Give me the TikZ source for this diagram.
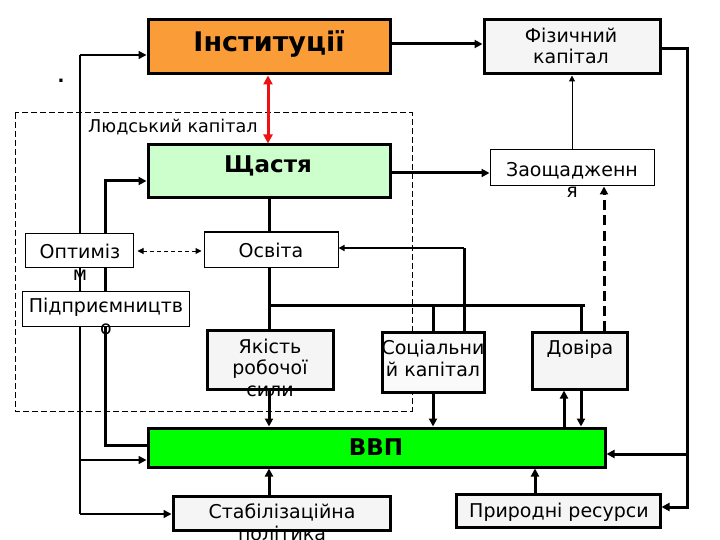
\documentclass[tikz,border=0pt]{standalone}
\usepackage{fontspec}
\setmainfont{DejaVu Sans}
\usetikzlibrary{arrows.meta,fit}
\definecolor{instor}{RGB}{250,157,56}
\definecolor{happyg}{RGB}{204,255,204}
\definecolor{gdpg}{RGB}{0,255,0}
\definecolor{boxgray}{RGB}{245,245,245}
\definecolor{redarr}{RGB}{238,17,17}
\pgfdeclarelayer{bg}
\pgfsetlayers{bg,main}
\tikzset{
  thickbox/.style={draw=black, line width=3pt, inner sep=0pt},
  thinbox/.style={draw=black, line width=1pt, inner sep=0pt, fill=white},
  txt/.style={inner sep=0pt, anchor=base, font=\fontsize{19}{21.5}\selectfont},
  lbl/.style={inner sep=0pt, anchor=base west, font=\fontsize{17.6}{20}\selectfont},
  bigtxt/.style={inner sep=0pt, anchor=base, font=\bfseries\fontsize{23}{27}\selectfont},
  thk/.style={line width=3pt},
  thn/.style={line width=1.5pt},
  tip/.style={-{Triangle[length=8pt,width=8pt]}},
  smalltip/.style={-{Triangle[length=6pt,width=6pt]}},
}
\begin{document}
\begin{tikzpicture}[x=1pt,y=-1pt]
\useasboundingbox (0,0) rectangle (720,540);
% boxes
\node[thickbox, fill=instor, fit={(148,20) (390,74)}] (inst) {};
\node[thickbox, fill=boxgray, fit={(484,20) (660,74)}] (fiz) {};
\node[thickbox, fill=happyg, fit={(148,145) (390,198)}] (happy) {};
\node[thinbox, fit={(490,150) (654,186)}] (sav) {};
\node[thinbox, fit={(25,233) (133,267)}] (opt) {};
\node[thinbox, fit={(204,232) (338,267)}] (osv) {};
\node[thinbox, fit={(22,291) (189,326)}] (pid) {};
\node[thickbox, fill=boxgray, fit={(207,330) (333,389)}] (yak) {};
\node[thickbox, fill=boxgray!50, fit={(382,332) (484,392)}] (soc) {};
\node[thickbox, fill=boxgray, fit={(532,332) (627,389)}] (dov) {};
\node[thickbox, fill=gdpg, fit={(148,428) (605,467)}] (gdp) {};
\node[thickbox, fill=boxgray, fit={(173,496) (390,530)}] (stab) {};
\node[thickbox, fill=boxgray, fit={(456,494) (660,527)}] (nat) {};
% background: frame and long left lines
\begin{pgfonlayer}{bg}
\draw[line width=1pt, dash pattern=on 6pt off 3pt] (15,113) rectangle (412,411);
\coordinate (lt) at (80,55);
\coordinate (lm) at (80,460);
\coordinate (lb) at (80,514);
\draw[thn] (lt) -- (lb);
\draw[thn,tip] (lt) -- (lt -| inst.west);
\draw[thn,tip] (lm) -- (lm -| gdp.west);
\draw[thn,tip] (lb) -- (lb -| stab.west);
\coordinate (ht) at (105,181);
\coordinate (hb) at (105,445);
\draw[thk,tip] (hb -| gdp.west) -- (hb) -- (ht) -- (ht -| happy.west);
\end{pgfonlayer}
% connectors
\draw[line width=3pt, redarr, {Triangle[length=9pt,width=9pt]}-{Triangle[length=9pt,width=9pt]}] (inst.south -| 268,0) -- (happy.north -| 268,0);
\draw[thk,tip] (inst.east |- 0,44) -- (fiz.west |- 0,44);
\coordinate (r1) at (687,49);
\coordinate (r2) at (687,507);
\coordinate (r3) at (687,454);
\draw[thk,tip] (fiz.east |- r1) -- (r1) -- (r2) -- (r2 -| nat.east);
\draw[thk,tip] (r3) -- (r3 -| gdp.east);
\draw[line width=1pt,smalltip] (sav.north) -- (fiz.south);
\draw[thk,tip] (happy.east |- 0,173) -- (sav.west |- 0,173);
\draw[thk, dash pattern=on 10pt off 5pt, tip] (dov.north -| 604,0) -- (sav.south -| 604,0);
\draw[thk] (happy.south -| 269,0) -- (osv.north -| 269,0);
\draw[thk] (osv.south -| 269,0) -- (yak.north -| 269,0);
\draw[thk,tip] (yak.south -| 269,0) -- (gdp.north -| 269,0);
\coordinate (j1) at (269,305);
\coordinate (j2) at (585,305);
\draw[thk] (j1) -- (j2);
\draw[thk] (433,305) -- (soc.north -| 433,0);
\draw[thk] (581,305) -- (dov.north -| 581,0);
\coordinate (e1) at (464,248);
\draw[thk] (soc.north -| e1) -- (e1);
\draw[thn,smalltip] (e1) -- (e1 -| osv.east);
\draw[line width=1pt, dash pattern=on 4pt off 3pt, {Triangle[length=6pt,width=6pt]}-{Triangle[length=6pt,width=6pt]}, shorten <=4pt, shorten >=2pt] (opt.east |- 0,251) -- (osv.west |- 0,251);
\draw[thk,tip] (soc.south -| 433,0) -- (gdp.north -| 433,0);
\draw[thk,tip] (gdp.north -| 564,0) -- (dov.south -| 564,0);
\draw[thk,tip] (dov.south -| 581,0) -- (gdp.north -| 581,0);
\draw[thk,tip] (stab.north -| 269,0) -- (gdp.south -| 269,0);
\draw[thk,tip] (nat.north -| 535,0) -- (gdp.south -| 535,0);
% texts (base anchor of a multi-line node = baseline of its last line)
\node[bigtxt, font=\bfseries\fontsize{27}{30}\selectfont] (t-inst) at (269,52) {Інституції};
\node[txt, align=center] (t-fiz) at (571,64) {Фізичний\\капітал};
\node[lbl] (t-hc) at (88,133) {Людський капітал};
\node[bigtxt] (t-happy) at (268,173) {Щастя};
\node[txt, align=center] (t-sav) at (572,198) {Заощадженн\\я};
\node[txt, align=center] (t-opt) at (80,280) {Оптиміз\\м};
\node[txt] (t-osv) at (271,257) {Освіта};
\node[txt, align=center] (t-pid) at (106,334) {Підприємництв\\о};
\node[txt, align=center] (t-yak) at (270,396) {Якість\\робочої\\сили};
\node[txt, align=center] (t-soc) at (433,376) {Соціальни\\й капітал};
\node[txt] (t-dov) at (580,354) {Довіра};
\node[bigtxt] (t-gdp) at (376,455) {ВВП};
\node[txt, align=center] (t-stab) at (282,540) {Стабілізаційна\\політика};
\node[txt] (t-nat) at (559,517) {Природні ресурси};
\node[inner sep=0pt, anchor=base, font=\bfseries\fontsize{18}{20}\selectfont] (dot) at (61,83) {.};
\end{tikzpicture}
\end{document}
